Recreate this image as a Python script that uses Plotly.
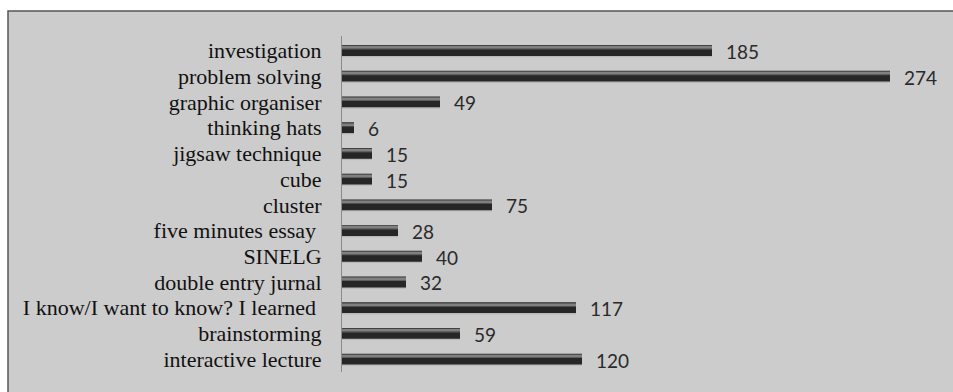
import plotly.graph_objects as go

# Teaching methods and how often each was reported
methods = [
    "investigation",
    "problem solving",
    "graphic organiser",
    "thinking hats",
    "jigsaw technique",
    "cube",
    "cluster",
    "five minutes essay\u00a0",
    "SINELG",
    "double entry jurnal",
    "I know/I want to know? I learned\u00a0",
    "brainstorming",
    "interactive lecture",
]
counts = [185, 274, 49, 6, 15, 15, 75, 28, 40, 32, 117, 59, 120]

W, H = 953, 392
M_L, M_R, M_T, M_B = 342, 11, 36, 20
X_MAX = 300

fig = go.Figure()

# soft drop shadow under each bar
fig.add_trace(go.Bar(
    x=counts, y=methods, orientation="h",
    width=0.42, offset=-0.16,
    marker=dict(color="#b8b8b8", line=dict(width=0)),
    hoverinfo="skip", showlegend=False,
))
# main dark bar body
fig.add_trace(go.Bar(
    x=counts, y=methods, orientation="h",
    width=0.42, offset=-0.21,
    marker=dict(color="#262626", line=dict(width=0)),
    showlegend=False,
))
# upper grey band giving the bars a rounded look
fig.add_trace(go.Bar(
    x=counts, y=methods, orientation="h",
    width=0.15, offset=-0.19,
    marker=dict(color="#5e5e5e", line=dict(width=0)),
    hoverinfo="skip", showlegend=False,
))
# thin highlight line
fig.add_trace(go.Bar(
    x=counts, y=methods, orientation="h",
    width=0.05, offset=-0.14,
    marker=dict(color="#808080", line=dict(width=0)),
    hoverinfo="skip", showlegend=False,
))

# value labels to the right of each bar
for m, c in zip(methods, counts):
    fig.add_annotation(
        x=c, y=m, text=str(c), showarrow=False,
        xanchor="left", yanchor="middle", xshift=12, yshift=-1,
        font=dict(family="Lato, Liberation Sans, sans-serif", size=19, color="#2a2a2a"),
    )

# chart frame with grey fill
plot_w = W - M_L - M_R
plot_h = H - M_T - M_B
fig.add_shape(
    type="rect", xref="paper", yref="paper", layer="below",
    x0=(8 - M_L) / plot_w, x1=2,
    y0=-1, y1=1 + (M_T - 11) / plot_h,
    fillcolor="#cccccc", line=dict(color="#555555", width=1.5),
)

fig.update_layout(
    width=W, height=H,
    margin=dict(l=M_L, r=M_R, t=M_T, b=M_B, pad=0),
    paper_bgcolor="white",
    plot_bgcolor="rgba(0,0,0,0)",
    barmode="overlay",
    xaxis=dict(range=[0, X_MAX], visible=False, fixedrange=True),
    yaxis=dict(
        autorange="reversed",
        tickmode="array", tickvals=methods, ticktext=methods,
        showline=True, linecolor="#8a8a8a", linewidth=1,
        showgrid=False, zeroline=False, ticks="",
        ticklabelstandoff=15,
        tickfont=dict(family="Liberation Serif, Times New Roman, serif", size=22, color="#111111"),
    ),
)

fig.write_html("out.html")
